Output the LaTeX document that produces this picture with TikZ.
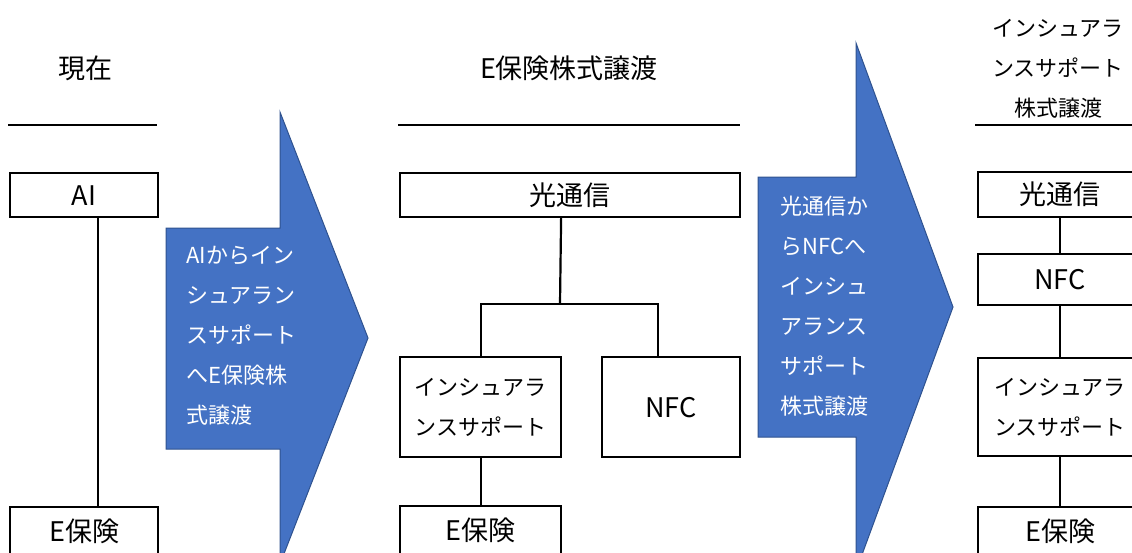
\documentclass[tikz,border=0pt]{standalone}
\usepackage{fontspec}
\setmainfont{Noto Sans CJK JP}
\definecolor{arrowblue}{HTML}{4472C4}
\definecolor{arrowedge}{HTML}{2F528F}
\newcommand{\bigja}{\fontsize{27}{32}\selectfont}
\newcommand{\smallja}{\fontsize{22}{40}\selectfont}
\tikzset{
  box/.style={draw=black, line width=2.2pt, anchor=north west, inner sep=0pt, font=\bigja},
  smallbox/.style={box, font=\smallja, align=center},
  link/.style={draw=black, line width=2.2pt},
  bigarrow/.style={fill=arrowblue, draw=arrowedge, line width=1pt},
  arrowtext/.style={text=white, font=\smallja, align=left, anchor=north west, inner sep=0pt},
  title/.style={font=\bigja}
}
\begin{document}
\begin{tikzpicture}[x=1pt,y=-1pt]
\useasboundingbox (0,0) rectangle (1132,552);
\clip (0,0) rectangle (1132,552);

\draw[bigarrow] (166,228) -- (280,228) -- (280,112) -- (368,338) -- (280,564) -- (280,449) -- (166,449) -- cycle;
\draw[bigarrow] (758,177) -- (856,177) -- (856,43) -- (953,307) -- (856,571) -- (856,437) -- (758,437) -- cycle;
\node[arrowtext] (msg1) at (186,246) {AIからイン\\シュアラン\\スサポート\\へE保険株\\式譲渡};
\node[arrowtext] (msg2) at (780,196) {光通信か\\らNFCへ\\インシュ\\アランス\\サポート\\株式譲渡};

\node[title] (now) at (85,68) {現在};
\node[title] (stage1) at (569,68) {E保険株式譲渡};
\node[font=\smallja, align=center, anchor=north] (stage2) at (1058,16) {インシュアラ\\ンスサポート\\株式譲渡};
\draw[link] (8,125) -- (157,125);
\draw[link] (398,125) -- (740,125);
\draw[link] (975,125) -- (1140,125);

\node[box, minimum width=148pt, minimum height=44pt] (ai) at (9,172) {AI};
\node[box, minimum width=148pt, minimum height=48pt] (eh1) at (9,506) {E保険};
\draw[link] ([xshift=14pt]ai.south) -- ([xshift=14pt]eh1.north);

\node[box, minimum width=340pt, minimum height=44pt] (kou2) at (399,172) {光通信};
\node[smallbox, minimum width=161pt, minimum height=100pt] (ins2) at (399,356) {インシュアラ\\ンスサポート};
\node[box, minimum width=138pt, minimum height=100pt] (nfc2) at (601,356) {NFC};
\node[box, minimum width=161pt, minimum height=48pt] (eh2) at (399,505) {E保険};
\coordinate (fork) at (560,304);
\draw[link] ([xshift=-9pt]kou2.south) -- (fork);
\draw[link] (ins2.north) |- (fork) -| ([xshift=-13pt]nfc2.north);
\draw[link] (ins2.south) -- (eh2.north);

\node[box, minimum width=164pt, minimum height=45pt] (kou3) at (977,171) {光通信};
\node[box, minimum width=164pt, minimum height=51pt] (nfc3) at (977,253) {NFC};
\node[smallbox, minimum width=164pt, minimum height=98pt] (ins3) at (977,357) {インシュアラ\\ンスサポート};
\node[box, minimum width=164pt, minimum height=48pt] (eh3) at (977,506) {E保険};
\draw[link] (kou3.south) -- (nfc3.north);
\draw[link] (nfc3.south) -- (ins3.north);
\draw[link] (ins3.south) -- (eh3.north);

\end{tikzpicture}
\end{document}
